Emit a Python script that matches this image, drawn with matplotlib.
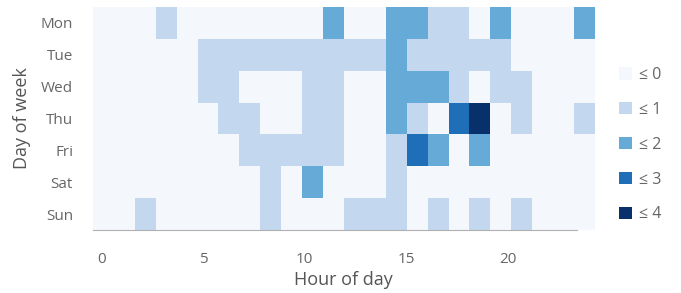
import numpy as np
import matplotlib
matplotlib.use("Agg")
import matplotlib.pyplot as plt
from matplotlib.colors import ListedColormap, BoundaryNorm
from matplotlib.patches import Patch

plt.rcParams["font.family"] = ["Open Sans", "DejaVu Sans"]

days = ["Mon", "Tue", "Wed", "Thu", "Fri", "Sat", "Sun"]
hour_ticks = [0, 5, 10, 15, 20]

# counts per day (rows) and hour (columns 0..23)
mon = [0, 0, 0, 1, 0, 0, 0, 0, 0, 0, 0, 2, 0, 0, 2, 2, 1, 1, 0, 2, 0, 0, 0, 2]
tue = [0, 0, 0, 0, 0, 1, 1, 1, 1, 1, 1, 1, 1, 1, 2, 1, 1, 1, 1, 1, 0, 0, 0, 0]
wed = [0, 0, 0, 0, 0, 1, 1, 0, 0, 0, 1, 1, 0, 0, 2, 2, 2, 1, 0, 1, 1, 0, 0, 0]
thu = [0, 0, 0, 0, 0, 0, 1, 1, 0, 0, 1, 1, 0, 0, 2, 1, 0, 3, 4, 0, 1, 0, 0, 1]
fri = [0, 0, 0, 0, 0, 0, 0, 1, 1, 1, 1, 1, 0, 0, 1, 3, 2, 0, 2, 0, 0, 0, 0, 0]
sat = [0, 0, 0, 0, 0, 0, 0, 0, 1, 0, 2, 0, 0, 0, 1, 0, 0, 0, 0, 0, 0, 0, 0, 0]
sun = [0, 0, 1, 0, 0, 0, 0, 0, 1, 0, 0, 0, 1, 1, 1, 0, 1, 0, 1, 0, 1, 0, 0, 0]

levels = [0, 1, 2, 3, 4]
level_labels = ["≤ 0", "≤ 1", "≤ 2", "≤ 3", "≤ 4"]
colors = ["#f4f8fd", "#c3d8ee", "#66aad8", "#1f6fb8", "#08306b"]

data = np.array([mon, tue, wed, thu, fri, sat, sun])

cmap = ListedColormap(colors)
norm = BoundaryNorm([-0.5, 0.5, 1.5, 2.5, 3.5, 4.5], cmap.N)

fig = plt.figure(figsize=(6.81, 2.93), dpi=100)
ax = fig.add_axes([92.5 / 681, 63 / 293, 501.5 / 681, 223 / 293])
ax.imshow(data, cmap=cmap, norm=norm, aspect="auto", interpolation="nearest")

for s in ["top", "right", "left"]:
    ax.spines[s].set_visible(False)
ax.spines["bottom"].set_color("#b0b0b0")
ax.spines["bottom"].set_bounds(-0.5, 22.7)

# hour labels sit on a slightly narrower scale than the cells in the original
tick_pos = [(101.7 + 20.3 * h - 92.5) / 20.9 - 0.5 for h in hour_ticks]
ax.set_xticks(tick_pos)
ax.set_xticklabels([str(h) for h in hour_ticks])
ax.set_yticks(range(len(days)))
ax.set_yticklabels(days)
ax.tick_params(axis="x", length=0, pad=16, labelsize=11, labelcolor="#666666")
ax.tick_params(axis="y", length=0, pad=14, labelsize=11, labelcolor="#666666")

ax.set_xlabel("Hour of day", fontsize=13, color="#555555", labelpad=3)
ax.set_ylabel("Day of week", fontsize=13, color="#555555", labelpad=7)

handles = [Patch(facecolor=c, edgecolor="none") for c in colors]
fig.legend(
    handles,
    level_labels,
    loc="upper left",
    bbox_to_anchor=(619 / 681, 1 - 67 / 293),
    frameon=False,
    fontsize=11.5,
    labelcolor="#666666",
    handlelength=0.8,
    handleheight=0.8,
    handletextpad=0.45,
    labelspacing=1.18,
    borderpad=0,
    borderaxespad=0,
)

fig.savefig("out.png", dpi=100)
